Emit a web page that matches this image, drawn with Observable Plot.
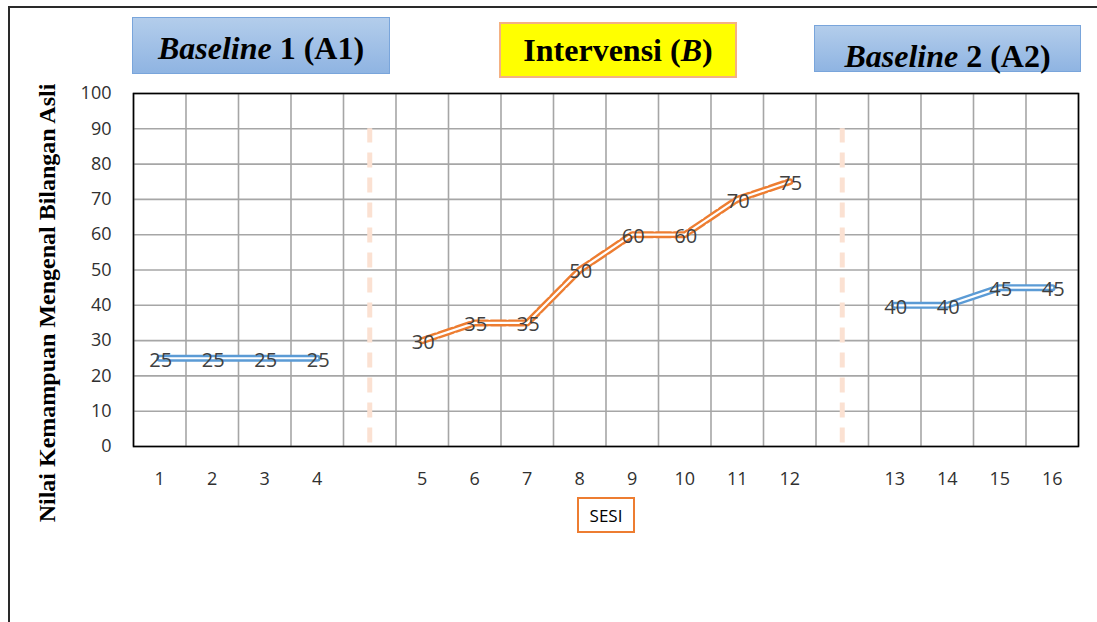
<!DOCTYPE html>
<html>
<head>
<meta charset="utf-8">
<script src="https://cdn.jsdelivr.net/npm/d3@7"></script>
<script src="https://cdn.jsdelivr.net/npm/@observablehq/plot@0.6"></script>
<style>
  html, body { margin: 0; padding: 0; background: #fff; overflow: hidden; }
  #wrap { position: relative; width: 1097px; height: 622px; }
  #wrap svg { position: absolute; left: 0; top: 0; }
  .frame { position: absolute; left: 8px; top: 6px; width: 1300px; height: 800px;
           border-top: 2px solid #2a2a2a; border-left: 2px solid #2a2a2a; }
  .phase { position: absolute; box-sizing: border-box; display: flex; justify-content: center;
           align-items: center; font-family: "Liberation Serif", "Times New Roman", serif;
           font-weight: bold; font-size: 32px; color: #000; white-space: nowrap; }
  .phase i { font-style: italic; }
  #a1 { left: 132px; top: 17px; width: 258px; height: 57px; padding-top: 6px;
        background: linear-gradient(#b3cdeb, #8fb4e2); border: 1px solid #79a5db; }
  #b  { left: 499px; top: 22px; width: 238px; height: 56px; padding-top: 0px;
        background: #ffff00; border: 2px solid #f4b183; }
  #a2 { left: 814px; top: 25px; width: 267px; height: 47px; padding-top: 16px;
        background: linear-gradient(#b3cdeb, #8fb4e2); border: 1px solid #79a5db; }
  #sesi { position: absolute; left: 577px; top: 497px; width: 58px; height: 36px; box-sizing: border-box;
          border: 2px solid #ed7d31; display: flex; align-items: center; justify-content: center;
          font-family: "Open Sans", sans-serif; font-size: 17px; color: #000; background: #fff; }
</style>
</head>
<body>
<div id="wrap">
  <div class="frame"></div>
</div>
<script>
// Sessions and scores per phase
const sessions = [1, 2, 3, 4, 5, 6, 7, 8, 9, 10, 11, 12, 13, 14, 15, 16];
const scores   = [25, 25, 25, 25, 30, 35, 35, 50, 60, 60, 70, 75, 40, 40, 45, 45];
const phases   = ["A1", "A1", "A1", "A1", "B", "B", "B", "B", "B", "B", "B", "B", "A2", "A2", "A2", "A2"];
const phaseTitles = [
  { id: "a1", html: "<i>Baseline</i>&nbsp;1 (A1)" },
  { id: "b",  html: "Intervensi&nbsp;(<i>B</i>)" },
  { id: "a2", html: "<i>Baseline</i>&nbsp;2 (A2)" }
];
const yTicks = [0, 10, 20, 30, 40, 50, 60, 70, 80, 90, 100];
const yTitle = "Nilai Kemampuan Mengenal Bilangan Asli";
const xTitle = "SESI";

// One empty slot is left on the x axis between consecutive phases
const slotOf = s => s + (s > 4 ? 1 : 0) + (s > 12 ? 1 : 0);
const data = sessions.map((s, i) => ({ session: s, slot: slotOf(s), score: scores[i], phase: phases[i] }));
const nSlots = slotOf(sessions[sessions.length - 1]);
const slotEdges = d3.range(0.5, nSlots + 1, 1);
const phaseBreaks = [slotOf(4) + 1, slotOf(12) + 1];
const labelBySlot = new Map(data.map(d => [d.slot, String(d.session)]));

const baseline = data.filter(d => d.phase !== "B");
const intervention = data.filter(d => d.phase === "B");

const chart = Plot.plot({
  width: 1097,
  height: 622,
  marginLeft: 133,
  marginRight: 19,
  marginTop: 93,
  marginBottom: 176,
  style: { fontFamily: "'Open Sans', sans-serif", fontSize: "18px", color: "#303030", background: "transparent" },
  x: { domain: [0.5, nSlots + 0.5] },
  y: { domain: [0, 100] },
  marks: [
    // grid
    Plot.ruleY(yTicks, { stroke: "#a6a6a6", strokeWidth: 1.6 }),
    Plot.ruleX(slotEdges, { stroke: "#a6a6a6", strokeWidth: 1.6 }),
    // phase separators
    Plot.ruleX(phaseBreaks, { y1: 1, y2: 90, stroke: "#fbe1d2", strokeWidth: 5, strokeDasharray: "15,10" }),
    Plot.frame({ stroke: "#000", strokeWidth: 1.6 }),
    // baseline lines: blue double line
    Plot.line(baseline, { x: "slot", y: "score", z: "phase", stroke: "#5b9bd5", strokeWidth: 7 }),
    Plot.line(baseline, { x: "slot", y: "score", z: "phase", stroke: "#fff", strokeWidth: 2.2 }),
    // intervention line: orange dashed double line
    Plot.line(intervention, { x: "slot", y: "score", stroke: "#ed7d31", strokeWidth: 7, strokeDasharray: "14,4" }),
    Plot.line(intervention, { x: "slot", y: "score", stroke: "#fff", strokeWidth: 2.2 }),
    // value labels
    Plot.text(data, { x: "slot", y: "score", text: d => String(d.score), fill: "#404040", fontSize: 20, dx: 1, dy: 2 }),
    // axes
    Plot.axisY(yTicks, { tickSize: 0, tickPadding: 22, fontSize: 18, label: null }),
    Plot.axisX(data.map(d => d.slot), { tickSize: 0, tickPadding: 26, fontSize: 18, label: null,
      tickFormat: s => labelBySlot.get(s) })
  ]
});

const wrap = document.getElementById("wrap");
wrap.appendChild(chart);

// rotated y-axis title
d3.select(chart).append("text")
  .attr("transform", "translate(55,303) rotate(-90)")
  .attr("text-anchor", "middle")
  .attr("font-family", "'Liberation Serif', 'Times New Roman', serif")
  .attr("font-weight", "bold")
  .attr("font-size", 24)
  .attr("fill", "#000")
  .text(yTitle);

// phase title boxes
for (const t of phaseTitles) {
  const div = document.createElement("div");
  div.className = "phase";
  div.id = t.id;
  div.innerHTML = t.html;
  wrap.appendChild(div);
}

// x-axis title box
const sesi = document.createElement("div");
sesi.id = "sesi";
sesi.textContent = xTitle;
wrap.appendChild(sesi);
</script>
</body>
</html>
